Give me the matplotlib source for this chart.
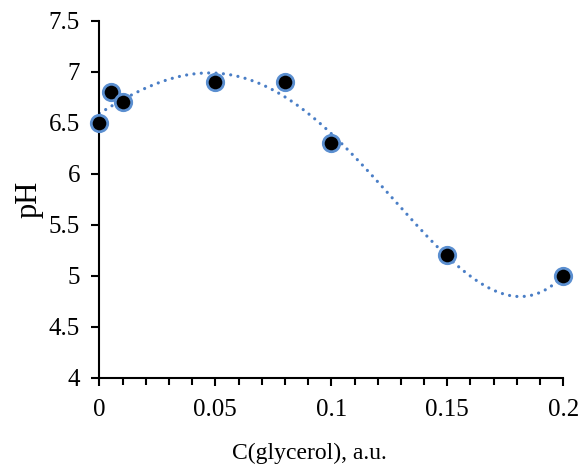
import numpy as np
import matplotlib.pyplot as plt
from matplotlib.ticker import MultipleLocator

# measured points
conc = [0.0, 0.005, 0.01, 0.05, 0.08, 0.1, 0.15, 0.2]
ph = [6.5, 6.8, 6.7, 6.9, 6.9, 6.3, 5.2, 5.0]

x_ticks = [0, 0.05, 0.1, 0.15, 0.2]
x_labels = ['0', '0.05', '0.1', '0.15', '0.2']
y_ticks = [4, 4.5, 5, 5.5, 6, 6.5, 7, 7.5]
y_labels = ['4', '4.5', '5', '5.5', '6', '6.5', '7', '7.5']

plt.rcParams['font.family'] = 'serif'
plt.rcParams['font.serif'] = ['Liberation Serif']

fig = plt.figure(figsize=(5.81, 4.67), dpi=100)
ax = fig.add_axes([0.171, 0.191, 0.7985, 0.7647])

# polynomial trendline (order 4), as in the spreadsheet
coef = np.polyfit(conc, ph, 4)
xs = np.linspace(0, 0.2, 300)
ax.plot(xs, np.polyval(coef, xs), color='#4A7EC6', lw=2.3,
        linestyle=(0, (0.01, 2.3)), dash_capstyle='round', zorder=2)

ax.scatter(conc, ph, s=140, color='black', edgecolor='#5B8FD0',
           linewidth=2.0, zorder=3, clip_on=False)

ax.set_xlim(0, 0.2)
ax.set_ylim(4, 7.5)
ax.set_xticks(x_ticks)
ax.set_xticklabels(x_labels)
ax.set_yticks(y_ticks)
ax.set_yticklabels(y_labels)
ax.xaxis.set_minor_locator(MultipleLocator(0.01))

for s in ['top', 'right']:
    ax.spines[s].set_visible(False)
for s in ['left', 'bottom']:
    ax.spines[s].set_linewidth(1.5)

ax.tick_params(which='both', direction='out', width=1.5, labelsize=18)
ax.tick_params(which='major', length=6, pad=8)
ax.tick_params(which='minor', length=5)
ax.tick_params(axis='x', pad=9)

ax.set_xlabel('C(glycerol), a.u.', fontsize=17)
ax.xaxis.set_label_coords(0.452, -0.183)
ax.set_ylabel('pH', fontsize=22, labelpad=4)

fig.savefig('out.png', dpi=100)
